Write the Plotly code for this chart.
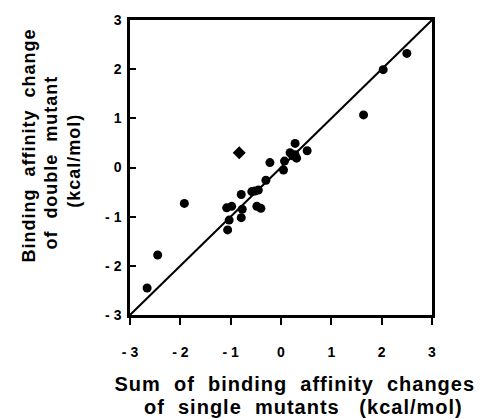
import plotly.graph_objects as go

# Sum of single-mutant changes (x) vs double-mutant change (y), kcal/mol
x_single = [-2.66, -2.45, -1.92, -1.08, -0.98, -1.03, -1.06, -0.79, -0.77, -0.79,
            -0.58, -0.52, -0.45, -0.48, -0.40, -0.30, -0.22, 0.05, 0.07, 0.18,
            0.28, 0.23, 0.31, 0.28, 0.52, 1.64, 2.03, 2.50]
y_double = [-2.45, -1.78, -0.73, -0.82, -0.79, -1.07, -1.27, -0.55, -0.85, -1.02,
            -0.49, -0.48, -0.46, -0.79, -0.83, -0.26, 0.10, -0.05, 0.13, 0.30,
            0.49, 0.24, 0.19, 0.26, 0.34, 1.07, 1.99, 2.32]
x_diamond = [-0.83]
y_diamond = [0.30]
identity = [-3, 3]
tick_vals = [-3, -2, -1, 0, 1, 2, 3]
tick_text = ["- 3", "- 2", "- 1", "0", "1", "2", "3"]

FONT = "Liberation Sans, Arial, sans-serif"
fig = go.Figure()
fig.add_trace(go.Scatter(x=identity, y=identity, mode="lines",
                         line=dict(color="black", width=2), hoverinfo="skip"))
fig.add_trace(go.Scatter(x=x_single, y=y_double, mode="markers",
                         marker=dict(symbol="circle", size=9, color="black")))
fig.add_trace(go.Scatter(x=x_diamond, y=y_diamond, mode="markers",
                         marker=dict(symbol="diamond", size=10, color="black")))

axis_common = dict(range=[-3, 3], tickvals=tick_vals, ticktext=tick_text,
                   showgrid=False, zeroline=False, showline=True, mirror=True,
                   linecolor="black", linewidth=2.5, tickcolor="black", tickwidth=2,
                   tickfont=dict(family=FONT, size=14, color="black", weight="bold"))

fig.update_layout(
    width=481, height=419,
    margin=dict(l=130, r=49, t=13, b=104),
    paper_bgcolor="white", plot_bgcolor="white",
    showlegend=False,
    xaxis=dict(**axis_common, ticks="outside", ticklen=7, ticklabelstandoff=15),
    yaxis=dict(**axis_common, ticks="inside", ticklen=6, ticklabelstandoff=3),
)

xt_font = dict(family=FONT, size=20, color="black", weight="bold")
yt_font = dict(family=FONT, size=18, color="black", weight="bold")
s2 = "\u00a0\u00a0"
W = 302.0
fig.add_annotation(text=f"Sum{s2}of{s2}binding{s2}affinity{s2}changes", xref="paper", yref="paper",
                   x=(295 - 130) / W, y=-(386 - 315) / W, showarrow=False,
                   font=xt_font, xanchor="center", yanchor="middle")
fig.add_annotation(text=f"of{s2}single{s2}mutants{s2}\u00a0(kcal/mol)", xref="paper", yref="paper",
                   x=(303 - 130) / W, y=-(409 - 315) / W, showarrow=False,
                   font=xt_font, xanchor="center", yanchor="middle")
for xc, yc, t in [(29, 142, f"Binding{s2}affinity{s2}change"),
                  (51, 159, f"of{s2}double{s2}mutant"),
                  (74, 157, "(kcal/mol)")]:
    fig.add_annotation(text=t, xref="paper", yref="paper",
                       x=(xc - 130) / W, y=(315 - yc) / W, showarrow=False,
                       textangle=-90, font=yt_font, xanchor="center", yanchor="middle")

post = """
document.querySelectorAll('.annotation-text').forEach(function(e){
  e.style.letterSpacing='1px';
});
"""
fig.write_html("out.html", post_script=post)
